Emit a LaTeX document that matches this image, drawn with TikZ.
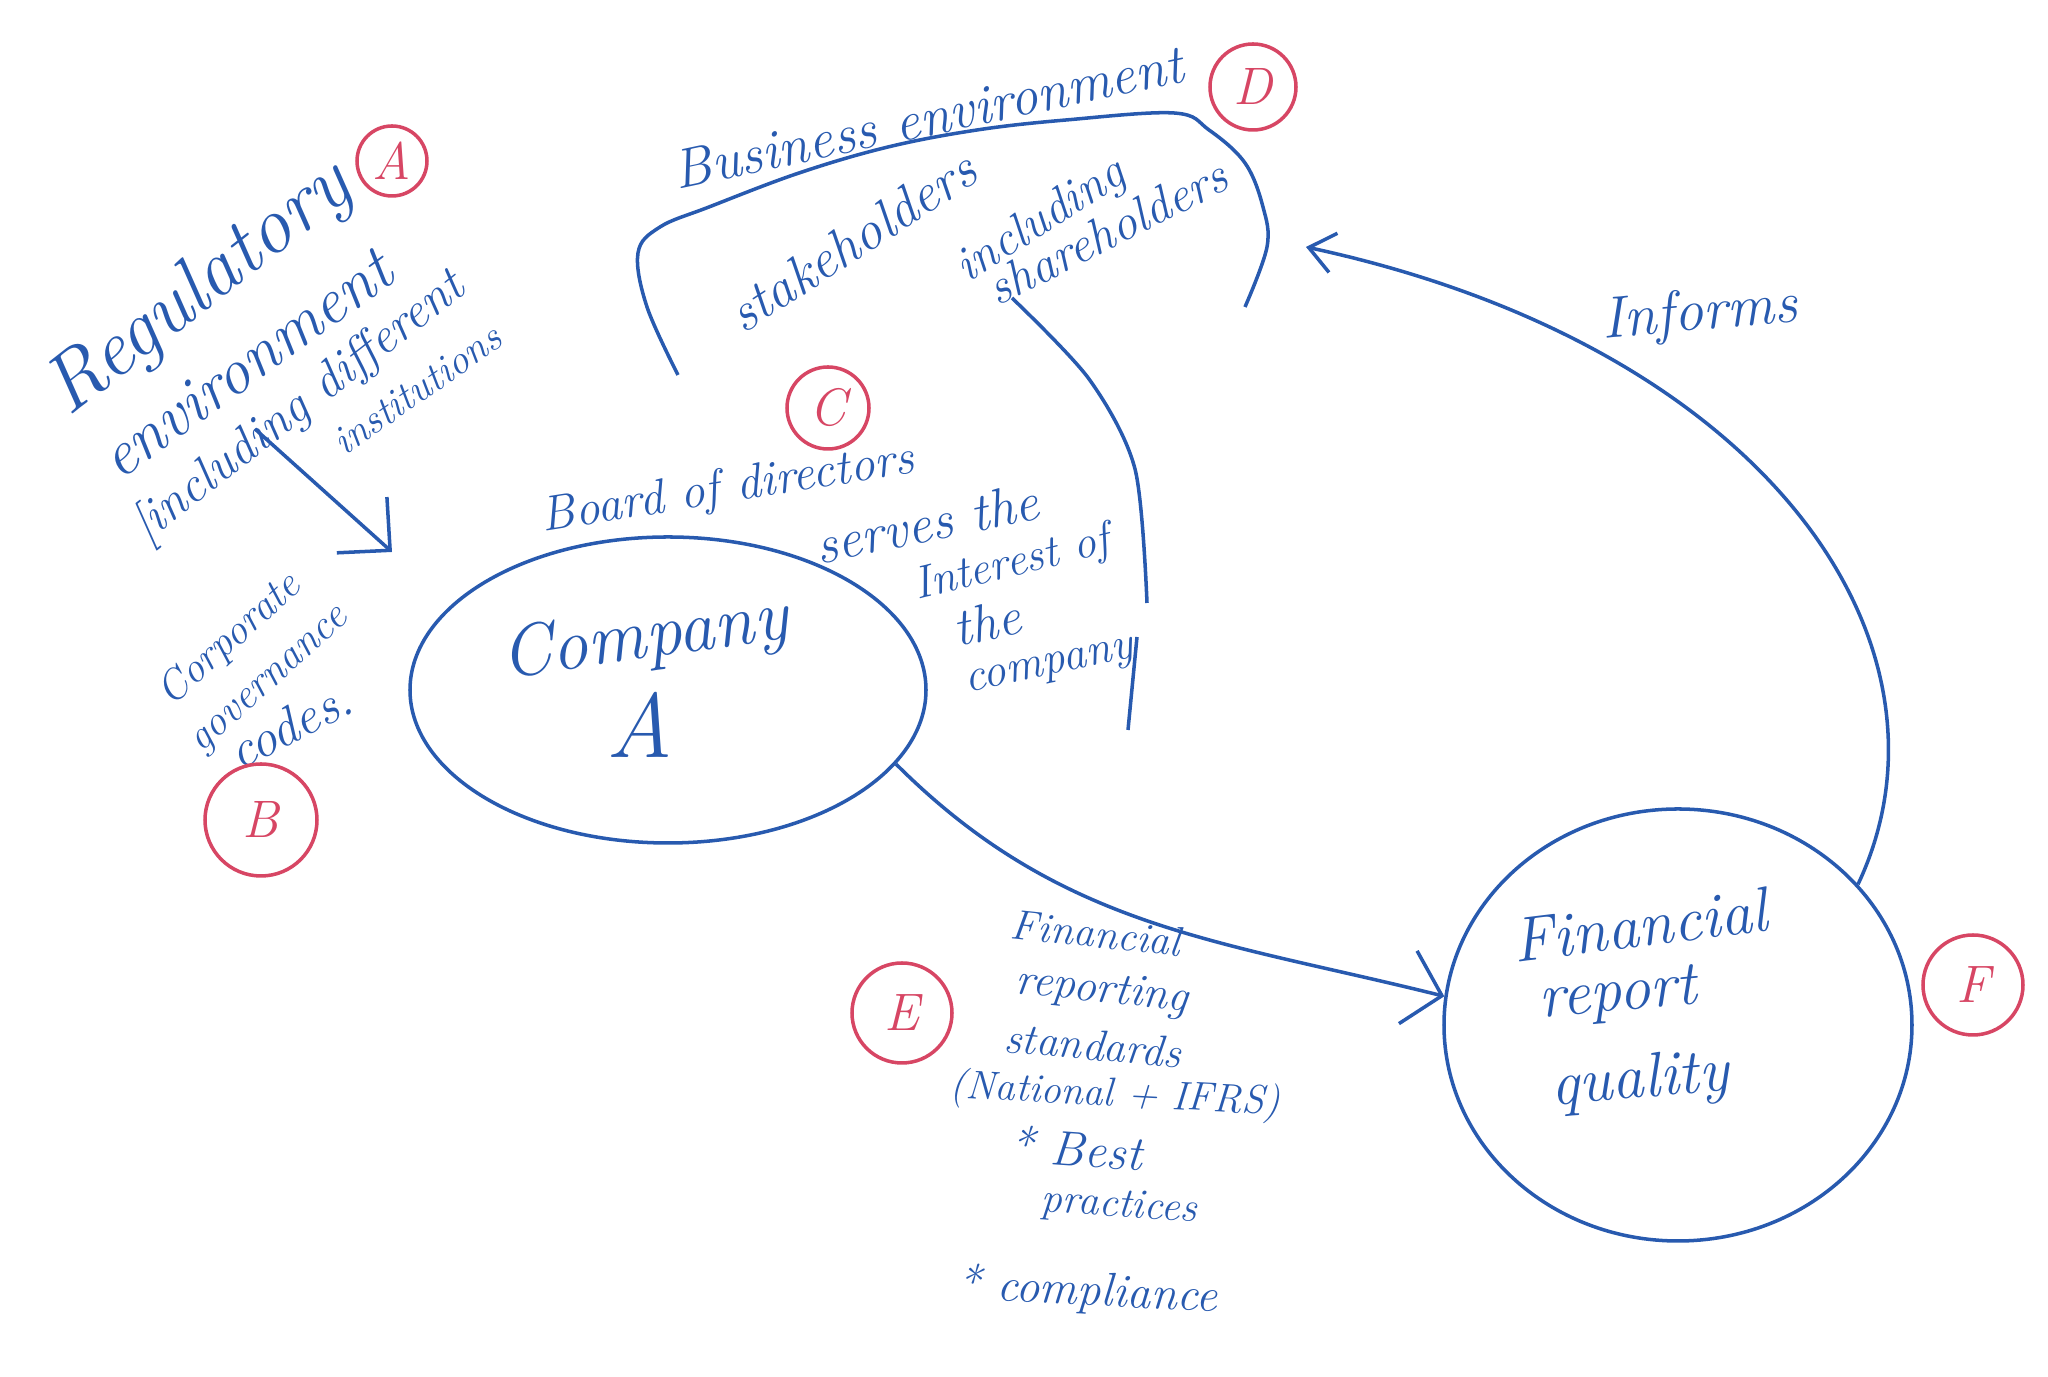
\documentclass[tikz,border=0pt]{standalone}
\usepackage{fontspec}
\usetikzlibrary{shapes.geometric,arrows.meta}
\definecolor{ink}{RGB}{40,90,175}
\definecolor{redink}{RGB}{215,70,100}
\tikzset{
  hand/.style={text=ink, inner sep=0pt, font=\fontsize{#1}{#1}\selectfont\itshape},
  letter/.style={draw=redink, text=redink, circle, line width=1pt, inner sep=0pt,
       minimum size=#1, font=\fontsize{15}{15}\selectfont\itshape},
  pen/.style={draw=ink, line width=1pt}
}
\begin{document}
\begin{tikzpicture}
\useasboundingbox (0,0) rectangle (20.48,13.77);
% regulatory environment
\node[hand=23, rotate=38] (reg) at (2.00,10.87) {Regulatory};
\node[letter=0.7cm] (markA) at (3.92,12.16) {A};
\node[hand=18.5, rotate=36] (env) at (2.46,10.13) {environment};
\node[hand=14.4, rotate=38] (incl) at (2.99,9.69) {[including different};
\node[hand=11.6, rotate=35] (inst) at (4.17,9.87) {institutions};
\coordinate (regout) at (2.55,9.48);
\coordinate (regin) at (3.92,8.25);
\draw[pen, -{Straight Barb[length=3.8mm,width=7.5mm]}] (regout) -- (regin);
% corporate governance codes
\node[hand=12, rotate=42] (corp) at (2.30,7.37) {Corporate};
\node[hand=12, rotate=42] (gov) at (2.72,6.94) {governance};
\node[hand=15, rotate=27] (codes) at (2.90,6.52) {codes.};
\node[letter=1.12cm] (markB) at (2.61,5.57) {B};
% business environment
\node[hand=15.8, rotate=12] (biz) at (9.28,12.60) {Business environment};
\node[letter=0.86cm] (markD) at (12.53,12.90) {D};
\draw[pen] plot[smooth, tension=0.6] coordinates {(6.78,10.02) (6.47,10.70)
       (6.38,11.24) (6.60,11.50) (7.09,11.70) (7.99,12.04) (8.88,12.30)
       (9.77,12.47) (10.66,12.57) (11.74,12.64) (12.09,12.47) (12.45,12.14)
       (12.63,11.70) (12.67,11.30) (12.45,10.70)};
\node[hand=15.7, rotate=33] (stake) at (8.52,11.36) {stakeholders};
\node[hand=14, rotate=32.5] (including) at (10.41,11.55) {including};
\node[hand=14.3, rotate=27] (share) at (11.07,11.45) {shareholders};
\draw[pen] plot[smooth] coordinates {(10.12,10.79) (10.89,9.98) (11.35,9.08) (11.47,7.74)};
\draw[pen] (11.37,7.40) -- (11.28,6.47);
% board of directors
\node[letter=0.82cm] (markC) at (8.28,9.69) {C};
\node[hand=14, rotate=9] (board) at (7.28,8.87) {Board of directors};
\node[hand=15.4, rotate=11.7] (serves) at (9.27,8.54) {serves the};
\node[hand=13, rotate=13.8] (interest) at (10.12,8.12) {Interest of};
\node[hand=15, rotate=12] (the) at (9.87,7.55) {the};
\node[hand=13.2, rotate=12] (comp) at (10.50,7.08) {company};
% company
\node[pen, ellipse, minimum width=5.16cm, minimum height=3.06cm] (company) at (6.68,6.87) {};
\node[hand=20.7, rotate=8] (companyname) at (6.45,7.37) {Company};
\node[hand=26] (companyA) at (6.40,6.52) {A};
% financial report quality
\node[pen, ellipse, minimum width=4.68cm, minimum height=4.32cm] (frq) at (16.78,3.52) {};
\node[hand=18, rotate=7] (fin) at (16.40,4.52) {Financial};
\node[hand=18, rotate=5] (report) at (16.18,3.80) {report};
\node[hand=18, rotate=5] (quality) at (16.40,2.95) {quality};
\node[letter=1cm] (markF) at (19.73,3.92) {F};
\draw[pen, -{Straight Barb[length=3.5mm,width=7.5mm]}] (company.-18) to[out=-45,in=166] (frq.173);
% reporting standards
\node[letter=1cm] (markE) at (9.02,3.64) {E};
\node[hand=12, rotate=-6] (stdfin) at (10.96,4.44) {Financial};
\node[hand=13, rotate=-6] (stdrep) at (11.02,3.85) {reporting};
\node[hand=12.5, rotate=-5] (stdstd) at (10.93,3.32) {standards};
\node[hand=11.5, rotate=-3] (stdnat) at (11.15,2.81) {(National + IFRS)};
\node[hand=14, rotate=-4] (best) at (10.76,2.29) {* Best};
\node[hand=12, rotate=-4] (pract) at (11.19,1.70) {practices};
\node[hand=13.5, rotate=-3] (compl) at (10.87,0.85) {* compliance};
% informs
\coordinate (informtip) at (13.06,11.30);
\draw[pen, -{Straight Barb[length=2.5mm,width=4mm]}] (frq.38) .. controls (19.70,7.30) and (17.70,10.30) .. (informtip);
\node[hand=16.7, rotate=5] (informs) at (17.00,10.62) {Informs};
\end{tikzpicture}
\end{document}
